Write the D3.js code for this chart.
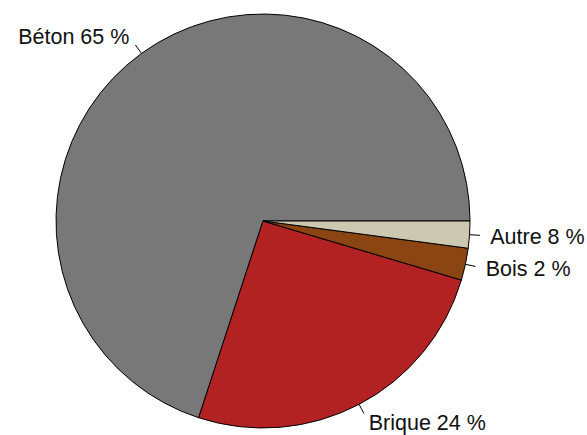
<!DOCTYPE html>
<html>
<head>
<meta charset="UTF-8" />
<script src="https://cdn.jsdelivr.net/npm/d3@7"></script>
<style>
  body { margin: 0; background: white; }
  svg text { font-family: "Liberation Sans", Arial, sans-serif; font-size: 21.5px; fill: #111; }
</style>
</head>
<body>
<div id="chart"></div>
<script>
// slice order as drawn, counter-clockwise from 3 o'clock
const categories = ["Béton", "Brique", "Bois", "Autre"];
const values = [69.9, 25.4, 2.5, 2.1];          // sizes as drawn
const labels = ["Béton 65 %", "Brique 24 %", "Bois 2 %", "Autre 8 %"];
const colors = ["#787878", "#b22222", "#8b4513", "#cdc8b1"];

const w = 587, h = 435;
const cx = 263, cy = 221, r = 207;

const svg = d3.select("#chart").append("svg")
    .attr("width", w)
    .attr("height", h);

const g = svg.append("g").attr("transform", "translate(" + cx + "," + cy + ")");

// R style: start at 3 o'clock, go counter-clockwise
const pie = d3.pie()
    .sort(null)
    .value(d => d)
    .startAngle(Math.PI / 2)
    .endAngle(Math.PI / 2 - 2 * Math.PI);

const arcs = pie(values);
const arc = d3.arc().innerRadius(0).outerRadius(r);

g.selectAll("path.slice")
    .data(arcs)
    .enter()
    .append("path")
    .attr("class", "slice")
    .attr("d", arc)
    .attr("fill", (d, i) => colors[i])
    .attr("stroke", "#000")
    .attr("stroke-width", 1)
    .attr("stroke-linejoin", "round");

const mid = d => (d.startAngle + d.endAngle) / 2;
// d3 angle -> x,y
const px = (a, rad) => rad * Math.sin(a);
const py = (a, rad) => -rad * Math.cos(a);

g.selectAll("line.tick")
    .data(arcs)
    .enter()
    .append("line")
    .attr("x1", d => px(mid(d), r))
    .attr("y1", d => py(mid(d), r))
    .attr("x2", d => px(mid(d), r * 1.05))
    .attr("y2", d => py(mid(d), r * 1.05))
    .attr("stroke", "#000")
    .attr("stroke-width", 1);

g.selectAll("text.lab")
    .data(arcs)
    .enter()
    .append("text")
    .attr("x", d => px(mid(d), r * 1.1))
    .attr("y", d => py(mid(d), r * 1.1))
    .attr("dy", "0.35em")
    .attr("text-anchor", d => px(mid(d), 1) < 0 ? "end" : "start")
    .text((d, i) => labels[i]);
</script>
</body>
</html>
